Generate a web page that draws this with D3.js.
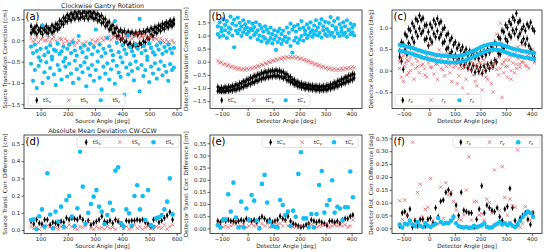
<!DOCTYPE html>
<html>
<head>
<meta charset="utf-8">
<script src="https://cdn.jsdelivr.net/npm/d3@7"></script>
<style>
body { margin: 0; background: #fff; }
svg { display: block; font-family: "DejaVu Sans", sans-serif; }
</style>
</head>
<body>
<svg id="chart" width="546" height="252"></svg>
<script>
// ---- data ----
const sourceAngle = [65,72,79,86,93,100,107,114,121,128,
  135,142,149,156,163,170,177,184,191,198,
  205,212,219,226,233,240,247,254,261,268,
  275,282,289,296,303,310,317,324,331,338,
  345,352,359,366,373,380,387,394,401,408,
  415,422,429,436,443,450,457,464,471,478,
  485,492,499,506,513,520,527,534,541,548,
  555,562,569,576,583,590];
const detectorAngle = [-115,-108,-101,-94,-87,-80,-73,-66,-59,-52,
  -45,-38,-31,-24,-17,-10,-3,4,11,18,
  25,32,39,46,53,60,67,74,81,88,
  95,102,109,116,123,130,137,144,151,158,
  165,172,179,186,193,200,207,214,221,228,
  235,242,249,256,263,270,277,284,291,298,
  305,312,319,326,333,340,347,354,361,368,
  375,382,389,396,403,410];

// (a) source translation correction
const srcTxHi = [0.33,0.25,0.30,0.34,0.24,0.29,0.31,0.26,0.33,0.28,
  0.27,0.35,0.31,0.38,0.37,0.46,0.44,0.53,0.52,0.59,
  0.57,0.63,0.60,0.66,0.61,0.67,0.62,0.64,0.68,0.63,
  0.65,0.68,0.62,0.66,0.60,0.62,0.56,0.58,0.50,0.50,
  0.41,0.43,0.33,0.35,0.27,0.29,0.20,0.24,0.18,0.22,
  0.15,0.20,0.16,0.19,0.14,0.18,0.13,0.20,0.15,0.21,
  0.19,0.25,0.22,0.28,0.25,0.31,0.29,0.35,0.33,0.39,
  0.37,0.42,0.40,0.46,0.43,0.48];
const srcTxLo = [0.17,0.22,0.19,0.15,0.24,0.20,0.14,0.23,0.19,0.16,
  0.24,0.18,0.21,0.27,0.25,0.30,0.38,0.37,0.45,0.44,
  0.51,0.47,0.54,0.50,0.56,0.50,0.53,0.56,0.51,0.57,
  0.50,0.56,0.54,0.50,0.52,0.46,0.48,0.40,0.42,0.33,
  0.35,0.25,0.26,0.17,0.18,0.09,0.10,0.01,0.04,-0.05,
  -0.02,-0.11,-0.07,-0.15,-0.10,-0.12,-0.15,-0.07,-0.11,-0.02,
  -0.05,0.05,0.03,0.13,0.10,0.19,0.17,0.24,0.22,0.29,
  0.26,0.33,0.30,0.36,0.33,0.38];
const srcTy = [0.04,-0.03,0.01,0.07,-0.05,0.02,0.05,-0.02,0.00,0.06,
  -0.04,0.03,0.08,-0.01,-0.05,0.04,0.02,-0.07,0.03,-0.02,
  -0.10,-0.03,0.02,-0.12,-0.06,-0.01,-0.17,-0.08,-0.13,-0.04,
  -0.19,-0.07,0.01,-0.11,-0.03,0.02,-0.06,0.05,0.00,0.07,
  0.03,0.09,0.01,0.06,0.10,0.02,0.05,0.12,0.04,0.08,
  0.14,0.06,0.10,0.03,0.13,0.09,0.16,0.05,0.11,0.08,
  0.12,0.03,0.07,0.10,0.00,0.06,0.03,-0.03,0.05,-0.01,
  -0.05,0.02,-0.04,-0.08,0.00,-0.06];
const srcTzA = [-0.15,-0.30,-0.10,-0.25,-0.40,-0.20,0.35,-0.35,-0.18,-0.28,
  -0.12,-0.38,-0.22,-0.25,-0.08,-0.32,-0.26,-0.15,-0.42,-0.20,
  -0.10,-0.30,-0.05,-0.24,-0.36,0.10,-0.18,-0.28,-0.12,-0.40,
  -0.22,-0.08,-0.33,-0.16,0.25,-0.26,-0.10,-0.38,-0.20,-0.30,
  0.05,-0.14,-0.24,-0.35,0.45,-0.06,-0.28,-0.40,-0.12,-0.22,
  -0.32,0.12,-0.16,-0.26,-0.36,-0.10,-0.20,0.50,-0.30,-0.14,
  -0.24,-0.38,-0.08,-0.18,-0.28,-0.34,-0.12,-0.22,-0.06,-0.32,
  -0.16,-0.26,-0.10,-0.20,-0.30,-0.18];
const srcTzB = [-0.55,-0.95,-0.70,-1.12,-0.60,-0.48,-1.00,-0.75,-0.52,-0.88,
  -0.65,-0.45,-0.80,-1.05,-0.58,-0.70,-0.92,-0.50,-0.62,-0.85,
  -0.55,-0.78,-1.00,-0.48,-0.68,-0.90,-0.60,-0.75,-0.52,-1.08,
  -0.66,-0.82,-0.58,-0.95,-0.70,-0.50,-0.88,-1.15,-0.62,-0.78,
  -0.54,-0.92,-0.68,-0.48,-1.02,-0.60,-0.76,-0.86,-0.52,-1.28,
  -0.64,-0.80,-0.56,-0.72,-0.94,-0.50,-0.66,-1.20,-0.58,-0.84,
  -0.70,-0.46,-0.98,-0.62,-0.78,-0.54,-0.90,-0.68,-0.50,-0.82,
  -0.60,-0.74,-0.95,-0.56,-0.70,-0.64];

// (b) detector translation correction
const detTxHi = [-0.96,-1.04,-0.99,-1.02,-0.97,-1.00,-0.95,-0.98,-0.92,-0.94,
  -0.87,-0.90,-0.82,-0.83,-0.75,-0.76,-0.68,-0.69,-0.60,-0.62,
  -0.54,-0.55,-0.48,-0.50,-0.42,-0.44,-0.38,-0.41,-0.35,-0.38,
  -0.33,-0.37,-0.32,-0.36,-0.34,-0.40,-0.39,-0.47,-0.48,-0.57,
  -0.58,-0.68,-0.69,-0.77,-0.77,-0.84,-0.82,-0.88,-0.86,-0.91,
  -0.88,-0.93,-0.90,-0.95,-0.92,-0.96,-0.93,-0.97,-0.92,-0.96,
  -0.90,-0.92,-0.86,-0.87,-0.80,-0.81,-0.73,-0.74,-0.66,-0.67,
  -0.60,-0.60,-0.53,-0.54,-0.47,-0.48];
const detTxLo = [-1.12,-1.10,-1.16,-1.11,-1.14,-1.09,-1.12,-1.07,-1.10,-1.05,
  -1.07,-1.01,-1.03,-0.96,-0.97,-0.90,-0.91,-0.84,-0.85,-0.78,
  -0.79,-0.72,-0.73,-0.66,-0.67,-0.61,-0.63,-0.57,-0.59,-0.54,
  -0.57,-0.52,-0.56,-0.53,-0.58,-0.56,-0.63,-0.59,-0.70,-0.70,
  -0.78,-0.78,-0.86,-0.86,-0.93,-0.92,-0.98,-0.96,-1.02,-0.99,
  -1.04,-1.01,-1.06,-1.03,-1.08,-1.04,-1.09,-1.05,-1.08,-1.04,
  -1.07,-1.01,-1.03,-0.97,-0.99,-0.92,-0.93,-0.86,-0.87,-0.80,
  -0.81,-0.74,-0.75,-0.68,-0.69,-0.62];
const detTy = [0.03,-0.05,-0.02,-0.11,-0.07,-0.16,-0.12,-0.21,-0.17,-0.25,
  -0.21,-0.29,-0.24,-0.31,-0.26,-0.32,-0.25,-0.30,-0.23,-0.27,
  -0.19,-0.23,-0.15,-0.18,-0.10,-0.13,-0.05,-0.08,0.00,-0.03,
  0.05,0.02,0.10,0.06,0.14,0.10,0.17,0.12,0.19,0.14,
  0.20,0.15,0.20,0.13,0.18,0.10,0.14,0.06,0.09,0.00,
  0.04,-0.05,-0.02,-0.11,-0.07,-0.16,-0.12,-0.21,-0.17,-0.25,
  -0.21,-0.29,-0.24,-0.31,-0.26,-0.33,-0.27,-0.32,-0.25,-0.30,
  -0.23,-0.28,-0.21,-0.26,-0.19,-0.23];
const detTzA = [1.35,1.50,1.28,1.62,1.40,1.55,1.30,1.72,1.45,1.60,
  1.38,1.68,1.48,1.35,1.58,1.42,1.30,1.52,1.25,1.45,
  1.32,1.50,1.20,1.40,1.28,1.15,1.35,1.22,1.10,1.30,
  1.05,1.20,0.98,1.15,1.25,1.05,1.18,0.95,1.30,1.10,
  1.45,1.22,1.35,1.15,1.40,1.25,1.55,1.30,1.18,1.42,
  1.28,1.50,1.20,1.38,1.58,1.30,1.45,1.62,1.35,1.52,
  1.25,1.48,1.70,1.38,1.55,1.30,1.65,1.42,1.28,1.50,
  1.35,1.58,1.22,1.45,1.30,1.40];
const detTzB = [1.05,0.95,1.15,1.00,1.20,0.90,1.10,1.25,1.00,0.55,
  1.18,1.08,1.22,0.98,1.12,1.25,1.05,1.15,0.92,1.20,
  1.02,1.10,0.85,1.00,0.78,0.95,0.88,0.72,0.80,0.90,
  0.70,0.85,0.45,0.75,0.88,0.68,0.82,0.95,0.75,0.88,
  0.60,0.35,0.80,0.92,0.72,0.85,0.98,0.80,1.05,0.90,
  1.00,1.12,0.95,1.05,1.18,1.00,1.10,0.92,1.20,1.05,
  0.98,1.15,1.02,1.10,0.95,1.22,1.08,0.98,1.15,1.02,
  1.10,0.95,1.20,1.05,1.12,1.00];

// (c) detector rotation correction
const rotRxHi = [0.45,0.66,0.62,0.85,0.80,0.97,0.93,1.10,1.02,1.20,
  1.15,1.28,1.18,1.22,1.05,1.06,0.90,1.08,1.00,1.17,
  1.08,1.21,1.10,1.14,0.96,1.00,0.82,0.86,0.70,0.76,
  0.60,0.66,0.52,0.60,0.47,0.55,0.42,0.50,0.37,0.46,
  0.33,0.42,0.30,0.38,0.28,0.42,0.33,0.45,0.37,0.50,
  0.42,0.57,0.50,0.65,0.60,0.78,0.74,0.93,0.90,1.06,
  1.00,1.14,1.08,1.24,1.17,1.33,1.12,1.16,0.96,1.03,
  0.93,1.08,1.02,1.12,0.98,0.92];
const rotRxLo = [0.32,0.22,0.03,0.48,0.38,0.64,0.55,0.76,0.66,0.90,
  0.80,0.98,0.86,0.92,0.72,0.75,0.58,0.74,0.66,0.86,
  0.78,0.92,0.76,0.84,0.64,0.68,0.50,0.53,0.38,0.44,
  0.30,0.36,0.22,0.30,0.16,0.26,0.12,0.22,0.06,0.16,
  0.02,0.12,-0.04,0.09,-0.02,0.08,-0.06,0.10,0.00,0.14,
  0.05,0.18,0.10,0.24,0.20,0.40,0.38,0.58,0.52,0.74,
  0.68,0.84,0.78,0.94,0.86,0.96,0.78,0.86,0.66,0.74,
  0.62,0.74,0.58,0.50,0.40,0.30];
const rotRyA = [0.20,-0.15,0.35,0.10,0.25,-0.05,0.30,0.15,0.40,0.05,
  0.22,0.45,0.12,0.28,-0.10,0.35,0.18,0.60,0.08,0.25,
  0.32,0.15,0.48,0.05,0.20,0.38,0.10,0.27,-0.05,0.18,
  0.30,0.12,0.25,-0.12,0.15,0.05,0.22,-0.20,0.10,0.28,
  0.00,0.15,-0.25,0.08,0.20,-0.08,0.12,0.25,-0.15,0.05,
  0.18,-0.30,0.10,0.22,0.02,0.30,1.10,0.15,-0.05,0.25,
  0.10,0.35,-0.20,0.18,0.40,0.05,0.28,0.15,0.45,0.20,
  0.30,0.10,0.38,0.25,0.50,0.22];
const rotRyB = [0.05,0.30,-0.25,0.18,-0.10,0.22,0.00,0.40,-0.20,0.28,
  0.10,-0.05,0.32,0.15,0.05,-0.15,0.25,0.08,0.35,-0.08,
  0.15,-0.20,0.20,0.30,0.02,-0.12,0.18,0.40,0.12,-0.25,
  0.08,0.20,-0.30,0.05,0.18,-0.40,0.10,0.15,-0.55,0.02,
  0.20,-0.10,0.12,-0.35,0.05,0.18,-0.45,0.00,0.15,-0.20,
  0.10,0.05,-0.50,0.15,0.85,-0.10,0.05,-0.62,0.20,0.10,
  -0.15,0.25,0.00,0.35,-0.05,0.15,0.55,0.08,0.20,0.60,
  0.12,0.35,0.05,0.28,0.45,0.18];
const rotRzA = [0.60,0.58,0.59,0.57,0.56,0.55,0.54,0.53,0.51,0.50,
  0.48,0.47,0.46,0.44,0.43,0.42,0.41,0.40,0.39,0.38,
  0.37,0.36,0.36,0.35,0.35,0.34,0.34,0.33,0.33,0.33,
  0.33,0.33,0.33,0.34,0.35,0.36,0.37,0.38,0.40,0.42,
  0.44,0.46,0.48,0.50,0.52,0.54,0.56,0.58,0.59,0.60,
  0.61,0.62,0.63,0.63,0.62,0.62,0.61,0.60,0.58,0.57,
  0.55,0.54,0.52,0.51,0.50,0.49,0.48,0.47,0.46,0.45,
  0.44,0.44,0.43,0.42,0.42,0.41];
const rotRzB = [0.46,0.44,0.45,0.43,0.42,0.41,0.40,0.39,0.37,0.36,
  0.35,0.33,0.32,0.30,0.29,0.28,0.27,0.26,0.25,0.24,
  0.23,0.22,0.22,0.21,0.21,0.20,0.20,0.19,0.19,0.19,
  0.19,0.19,0.19,0.20,0.21,0.22,0.23,0.24,0.26,0.28,
  0.30,0.32,0.34,0.36,0.38,0.40,0.42,0.44,0.45,0.46,
  0.47,0.48,0.49,0.49,0.48,0.48,0.47,0.46,0.44,0.43,
  0.41,0.40,0.38,0.37,0.36,0.35,0.34,0.33,0.32,0.31,
  0.30,0.30,0.29,0.28,0.28,0.27];

// (d)-(f) absolute mean deviation CW-CCW
const diffSourceAngle = [65,75,85,95,105,115,125,135,145,155,
  165,175,185,195,205,215,225,235,245,255,
  265,275,285,295,305,315,325,335,345,355,
  365,375,385,395,405,415,425,435,445,455,
  465,475,485,495,505,515,525,535,545,555,
  565,575,585];
const diffDetectorAngle = [-115,-105,-95,-85,-75,-65,-55,-45,-35,-25,
  -15,-5,5,15,25,35,45,55,65,75,
  85,95,105,115,125,135,145,155,165,175,
  185,195,205,215,225,235,245,255,265,275,
  285,295,305,315,325,335,345,355,365,375,
  385,395,405];
const dSrcTx = [0.05,0.035,0.06,0.04,0.035,0.06,0.06,0.03,0.045,0.04,
  0.03,0.05,0.045,0.07,0.06,0.07,0.065,0.06,0.075,0.06,
  0.04,0.055,0.03,0.04,0.05,0.06,0.08,0.05,0.045,0.055,
  0.04,0.06,0.05,0.035,0.02,0.055,0.05,0.055,0.055,0.06,
  0.055,0.06,0.045,0.035,0.02,0.06,0.065,0.045,0.055,0.07,
  0.085,0.105,0.06];
const dSrcTy = [0.02,0.01,0.015,0.005,0.02,0.01,0.025,0.02,0.01,0.015,
  0.005,0.02,0.01,0.015,0.03,0.02,0.01,0.005,0.02,0.015,
  0.025,0.05,0.01,0.005,0.02,0.01,0.015,0.005,0.02,0.01,
  0.015,0.005,0.06,0.025,0.01,0.02,0.005,0.015,0.03,0.01,
  0.02,0.005,0.015,0.025,0.01,0.005,0.02,0.015,0.01,0.03,
  0.005,0.02,0.03];
const dSrcTz = [0.058,0.062,0.005,0.08,0.12,0.02,0.33,0.09,0.01,0.107,
  0.05,0.136,0.02,0.174,0.198,0.078,0.023,0.126,0.455,0.252,
  0.035,0.10,0.151,0.194,0.232,0.136,0.107,0.035,0.087,0.159,
  0.116,0.345,0.365,0.04,0.02,0.12,0.097,0.023,0.198,0.26,
  0.12,0.198,0.058,0.232,0.029,0.019,0.068,0.074,0.087,0.12,
  0.165,0.30,0.091];
const dDetTx = [0.03,0.025,0.035,0.03,0.035,0.03,0.03,0.025,0.03,0.035,
  0.03,0.04,0.035,0.03,0.035,0.025,0.04,0.048,0.04,0.03,
  0.035,0.025,0.03,0.035,0.05,0.04,0.035,0.05,0.03,0.02,
  0.015,0.01,0.005,0.008,0.015,0.02,0.035,0.03,0.025,0.03,
  0.025,0.02,0.012,0.03,0.03,0.025,0.03,0.02,0.035,0.04,
  0.04,0.05,0.055];
const dDetTy = [0.01,0.02,0.005,0.01,0.005,0.01,0.015,0.03,0.005,0.01,
  0.015,0.005,0.01,0.02,0.01,0.015,0.005,0.02,0.01,0.02,
  0.005,0.01,0.025,0.015,0.02,0.01,0.03,0.01,0.02,0.005,
  0.01,0.003,0.01,0.04,0.04,0.02,0.015,0.01,0.005,0.01,
  0.01,0.015,0.02,0.005,0.01,0.015,0.01,0.02,0.01,0.015,
  0.005,0.01,0.035];
const dDetTz = [0.014,0.004,0.034,0.037,0.14,0.069,0.188,0.045,0.004,0.11,
  0.004,0.082,0.034,0.137,0.114,0.032,0.0,0.183,0.22,0.106,
  0.027,0.01,0.007,0.004,0.117,0.096,0.055,0.069,0.01,0.073,
  0.048,0.224,0.313,0.041,0.041,0.004,0.059,0.004,0.059,0.178,
  0.236,0.065,0.096,0.117,0.198,0.065,0.089,0.082,0.034,0.087,
  0.087,0.234,0.128];
const dRotRx = [0.01,0.06,0.065,0.05,0.075,0.005,0.03,0.01,0.035,0.035,
  0.01,0.035,0.04,0.02,0.08,0.045,0.105,0.11,0.14,0.15,
  0.135,0.045,0.09,0.05,0.14,0.07,0.065,0.06,0.06,0.005,
  0.035,0.075,0.165,0.06,0.09,0.08,0.07,0.065,0.08,0.045,
  0.03,0.075,0.085,0.155,0.08,0.03,0.015,0.04,0.05,0.06,
  0.035,0.015,0.06];
const dRotRy = [0.107,0.035,0.11,0.049,0.02,0.335,0.035,0.139,0.172,0.045,
  0.074,0.082,0.194,0.032,0.013,0.017,0.16,0.039,0.177,0.13,
  0.142,0.104,0.071,0.035,0.032,0.052,0.149,0.278,0.032,0.104,
  0.104,0.052,0.056,0.032,0.113,0.1,0.06,0.227,0.013,0.069,
  0.24,0.12,0.052,0.114,0.087,0.082,0.305,0.004,0.019,0.084,
  0.058,0.032,0.061];
const dRotRz = [0.015,0.003,0.018,0.015,0.03,0.015,0.008,0.025,0.01,0.005,
  0.02,0.01,0.005,0.012,0.018,0.04,0.025,0.018,0.022,0.02,
  0.03,0.045,0.02,0.008,0.005,0.003,0.005,0.002,0.003,0.01,
  0.004,0.008,0.012,0.02,0.006,0.003,0.004,0.012,0.018,0.025,
  0.015,0.02,0.012,0.02,0.01,0.005,0.015,0.03,0.045,0.055,
  0.065,0.06,0.045];

// ticks and legend labels
const sourceTicks = [100, 200, 300, 400, 500, 600];
const detectorTicks = [-100, 0, 100, 200, 300, 400];
const ticksA = [-1.5, -1.0, -0.5, 0.0, 0.5];
const ticksB = [-1.5, -1.0, -0.5, 0.0, 0.5, 1.0, 1.5];
const ticksC = [-0.5, 0.0, 0.5, 1.0];
const ticksD = [0.0, 0.1, 0.2, 0.3, 0.4, 0.5];
const ticksEF = [0.00, 0.05, 0.10, 0.15, 0.20, 0.25, 0.30, 0.35];
const legendSource = ['tS', 'tS', 'tS'];
const legendDetector = ['tC', 'tC', 'tC'];
const legendRotation = ['r', 'r', 'r'];
const legendSubs = ['x', 'y', 'z'];

const BLACK = '#000';
const RED = '#e0393c';
const CYAN = '#13bdf2';
const FONT = 'DejaVu Sans';

const svg = d3.select('#chart');

const xPath = (cx, cy, s) => `M${cx - s},${cy - s}L${cx + s},${cy + s}M${cx - s},${cy + s}L${cx + s},${cy - s}`;
const diamondPath = (cx, cy, w, h) => `M${cx},${cy - h}L${cx + w},${cy}L${cx},${cy + h}L${cx - w},${cy}Z`;

class ScatterPanel {
    constructor(cfg) {
        this.cfg = cfg;
        const b = cfg.box;
        this.xScale = d3.scaleLinear().domain(cfg.xDomain).range([b.x0, b.x1]);
        this.yScale = d3.scaleLinear().domain(cfg.yDomain).range([b.y1, b.y0]);
        this.g = svg.append('g');
        this.drawAxis();
        this.drawPoints();
        this.drawFrame();
        this.drawLegend();
        this.drawLabels();
    }

    drawAxis() {
        const c = this.cfg, b = c.box;
        const xAxis = d3.axisBottom(this.xScale).tickValues(c.xTicks)
            .tickFormat(d3.format('d')).tickSize(2.5).tickPadding(1.3);
        const yAxis = d3.axisLeft(this.yScale).tickValues(c.yTicks)
            .tickFormat(d3.format(c.yFormat)).tickSize(2.5).tickPadding(1.3);
        const gx = this.g.append('g').attr('transform', `translate(0,${b.y1})`).call(xAxis);
        const gy = this.g.append('g').attr('transform', `translate(${b.x0},0)`).call(yAxis);
        [gx, gy].forEach(a => {
            a.attr('font-size', 5.5).attr('font-family', FONT);
            a.select('.domain').remove();
            a.selectAll('line').attr('stroke', '#000').attr('stroke-width', 0.6);
            a.selectAll('text').attr('fill', '#222');
        });
    }

    drawPoints() {
        const c = this.cfg, b = c.box;
        const id = 'clip-' + c.letter.replace(/[()]/g, '');
        this.g.append('clipPath').attr('id', id).append('rect')
            .attr('x', b.x0).attr('y', b.y0).attr('width', b.x1 - b.x0).attr('height', b.y1 - b.y0);
        const layer = this.g.append('g').attr('clip-path', `url(#${id})`);
        const xs = this.xScale, ys = this.yScale;

        c.series.forEach(s => {
            const pts = s.ys.map((v, i) => ({x: s.xs[i], y: v}));
            const sg = layer.append('g');
            if (s.mark === 'o') {
                sg.selectAll('circle').data(pts).join('circle')
                    .attr('cx', d => xs(d.x)).attr('cy', d => ys(d.y))
                    .attr('r', c.r).attr('fill', CYAN);
            } else if (s.mark === 'x') {
                sg.selectAll('path').data(pts).join('path')
                    .attr('d', d => xPath(xs(d.x), ys(d.y), 1.7))
                    .attr('fill', 'none').attr('stroke', RED)
                    .attr('stroke-opacity', 0.75).attr('stroke-width', 0.8);
            } else {
                sg.selectAll('path.err').data(pts).join('path').attr('class', 'err')
                    .attr('d', d => `M${xs(d.x)},${ys(d.y) - c.err}V${ys(d.y) + c.err}`)
                    .attr('stroke', BLACK).attr('stroke-width', 0.7);
                sg.selectAll('path.dm').data(pts).join('path').attr('class', 'dm')
                    .attr('d', d => diamondPath(xs(d.x), ys(d.y), 1.5, 2.4))
                    .attr('fill', BLACK);
            }
        });
    }

    drawFrame() {
        const b = this.cfg.box;
        this.g.append('rect')
            .attr('x', b.x0).attr('y', b.y0).attr('width', b.x1 - b.x0).attr('height', b.y1 - b.y0)
            .attr('fill', 'none').attr('stroke', '#000').attr('stroke-width', 0.7);
    }

    drawLegend() {
        const c = this.cfg, L = c.legend;
        const lg = this.g.append('g');
        lg.append('rect').attr('x', L.x).attr('y', L.y).attr('width', L.w).attr('height', L.h)
            .attr('rx', 1.5).attr('fill', '#fff').attr('fill-opacity', 0.85)
            .attr('stroke', '#ccc').attr('stroke-width', 0.6);
        const cy = L.y + L.h / 2;
        const markAt = [0.09, 0.42, 0.75], textAt = [0.155, 0.54, 0.87];
        const marks = ['d', 'x', 'o'];
        marks.forEach((m, i) => {
            const mx = L.x + markAt[i] * L.w;
            if (m === 'd') {
                lg.append('path').attr('d', `M${mx},${cy - 3.2}V${cy + 3.2}`)
                    .attr('stroke', BLACK).attr('stroke-width', 0.7);
                lg.append('path').attr('d', diamondPath(mx, cy, 1.5, 2.4)).attr('fill', BLACK);
            } else if (m === 'x') {
                lg.append('path').attr('d', xPath(mx, cy, 1.7)).attr('fill', 'none')
                    .attr('stroke', RED).attr('stroke-opacity', 0.75).attr('stroke-width', 0.8);
            } else {
                lg.append('circle').attr('cx', mx).attr('cy', cy).attr('r', c.r).attr('fill', CYAN);
            }
            const t = lg.append('text').attr('x', L.x + textAt[i] * L.w).attr('y', cy + 1.8)
                .attr('font-size', 5.5).attr('font-family', FONT).attr('fill', '#222')
                .attr('font-style', c.italic ? 'italic' : null);
            t.append('tspan').text(c.legendNames[i]);
            t.append('tspan').text(legendSubs[i]).attr('font-size', 3.9).attr('dy', 1.3);
        });
    }

    drawLabels() {
        const c = this.cfg, b = c.box;
        this.g.append('text').attr('x', b.x0 + 1.5).attr('y', b.y0 + 10)
            .attr('font-size', 10).attr('font-family', FONT).text(c.letter);
        this.g.append('text').attr('x', (b.x0 + b.x1) / 2).attr('y', b.y1 + 14.3)
            .attr('text-anchor', 'middle').attr('font-size', 5.7).attr('font-family', FONT)
            .attr('fill', '#222').text(c.xLabel);
        this.g.append('text')
            .attr('transform', `translate(${b.x0 - c.yLabelOffset},${(b.y0 + b.y1) / 2}) rotate(-90)`)
            .attr('text-anchor', 'middle').attr('font-size', 5.7).attr('font-family', FONT)
            .attr('fill', '#222').text(c.yLabel);
        if (c.title) {
            this.g.append('text').attr('x', (b.x0 + b.x1) / 2).attr('y', b.y0 - 2.5)
                .attr('text-anchor', 'middle').attr('font-size', 6.3).attr('font-family', FONT)
                .attr('fill', '#222').text(c.title);
        }
    }
}

const topBox = {y0: 10, y1: 108.5};
const botBox = {y0: 135, y1: 233.5};
const colA = {x0: 24, x1: 181}, colB = {x0: 210, x1: 362}, colC = {x0: 392, x1: 542};

new ScatterPanel({
    letter: '(a)', title: 'Clockwise Gantry Rotation',
    box: {...colA, ...topBox}, xDomain: [39, 616], yDomain: [-1.6, 0.71],
    xTicks: sourceTicks, yTicks: ticksA, yFormat: '.1f',
    xLabel: 'Source Angle [deg]', yLabel: 'Source Translation Correction [cm]', yLabelOffset: 17,
    r: 2.1, err: 3.5, legendNames: legendSource, legend: {x: 28, y: 94.5, w: 97, h: 11.5},
    series: [
        {xs: sourceAngle, ys: srcTxHi, mark: 'd'}, {xs: sourceAngle, ys: srcTxLo, mark: 'd'},
        {xs: sourceAngle, ys: srcTy, mark: 'x'},
        {xs: sourceAngle, ys: srcTzA, mark: 'o'}, {xs: sourceAngle, ys: srcTzB, mark: 'o'}
    ]
});

new ScatterPanel({
    letter: '(b)',
    box: {...colB, ...topBox}, xDomain: [-145, 440], yDomain: [-1.78, 1.97],
    xTicks: detectorTicks, yTicks: ticksB, yFormat: '.1f',
    xLabel: 'Detector Angle [deg]', yLabel: 'Detector Translation Correction [cm]', yLabelOffset: 22,
    r: 2.1, err: 3.5, legendNames: legendDetector, legend: {x: 213, y: 94.5, w: 97, h: 11.5},
    series: [
        {xs: detectorAngle, ys: detTxHi, mark: 'd'}, {xs: detectorAngle, ys: detTxLo, mark: 'd'},
        {xs: detectorAngle, ys: detTy, mark: 'x'},
        {xs: detectorAngle, ys: detTzA, mark: 'o'}, {xs: detectorAngle, ys: detTzB, mark: 'o'}
    ]
});

new ScatterPanel({
    letter: '(c)', italic: true,
    box: {...colC, ...topBox}, xDomain: [-145, 440], yDomain: [-0.88, 1.41],
    xTicks: detectorTicks, yTicks: ticksC, yFormat: '.1f',
    xLabel: 'Detector Angle [deg]', yLabel: 'Detector Rotation Correction [deg]', yLabelOffset: 19,
    r: 2.1, err: 3.5, legendNames: legendRotation, legend: {x: 395, y: 94.5, w: 86, h: 11.5},
    series: [
        {xs: detectorAngle, ys: rotRxHi, mark: 'd'}, {xs: detectorAngle, ys: rotRxLo, mark: 'd'},
        {xs: detectorAngle, ys: rotRyA, mark: 'x'}, {xs: detectorAngle, ys: rotRyB, mark: 'x'},
        {xs: detectorAngle, ys: rotRzA, mark: 'o'}, {xs: detectorAngle, ys: rotRzB, mark: 'o'}
    ]
});

new ScatterPanel({
    letter: '(d)', title: 'Absolute Mean Deviation CW-CCW',
    box: {...colA, ...botBox}, xDomain: [39, 616], yDomain: [-0.02, 0.552],
    xTicks: sourceTicks, yTicks: ticksD, yFormat: '.1f',
    xLabel: 'Source Angle [deg]', yLabel: 'Source Transl. Corr. Difference [cm]', yLabelOffset: 17,
    r: 2.3, err: 3, legendNames: legendSource, legend: {x: 77, y: 137, w: 102, h: 10.5},
    series: [
        {xs: diffSourceAngle, ys: dSrcTx, mark: 'd'},
        {xs: diffSourceAngle, ys: dSrcTy, mark: 'x'},
        {xs: diffSourceAngle, ys: dSrcTz, mark: 'o'}
    ]
});

new ScatterPanel({
    letter: '(e)',
    box: {...colB, ...botBox}, xDomain: [-145, 440], yDomain: [-0.021, 0.384],
    xTicks: detectorTicks, yTicks: ticksEF, yFormat: '.2f',
    xLabel: 'Detector Angle [deg]', yLabel: 'Detector Transl. Corr. Difference [cm]', yLabelOffset: 22,
    r: 2.3, err: 3, legendNames: legendDetector, legend: {x: 262, y: 137, w: 96, h: 10.5},
    series: [
        {xs: diffDetectorAngle, ys: dDetTx, mark: 'd'},
        {xs: diffDetectorAngle, ys: dDetTy, mark: 'x'},
        {xs: diffDetectorAngle, ys: dDetTz, mark: 'o'}
    ]
});

new ScatterPanel({
    letter: '(f)', italic: true,
    box: {...colC, ...botBox}, xDomain: [-145, 440], yDomain: [-0.02, 0.363],
    xTicks: detectorTicks, yTicks: ticksEF, yFormat: '.2f',
    xLabel: 'Detector Angle [deg]', yLabel: 'Detector Rot. Corr. Difference [deg]', yLabelOffset: 19,
    r: 2.3, err: 3, legendNames: legendRotation, legend: {x: 453, y: 137, w: 87, h: 10.5},
    series: [
        {xs: diffDetectorAngle, ys: dRotRx, mark: 'd'},
        {xs: diffDetectorAngle, ys: dRotRy, mark: 'x'},
        {xs: diffDetectorAngle, ys: dRotRz, mark: 'o'}
    ]
});
</script>
</body>
</html>
